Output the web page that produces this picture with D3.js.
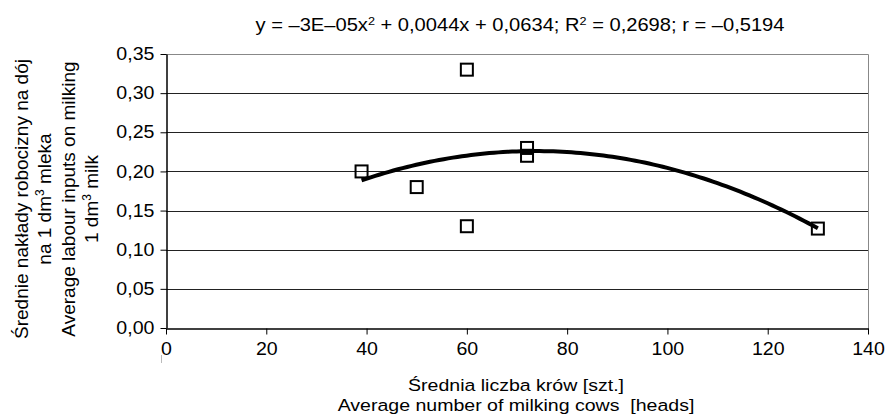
<!DOCTYPE html>
<html>
<head>
<meta charset="utf-8">
<script src="https://cdn.jsdelivr.net/npm/d3@7"></script>
<style>
  body { margin: 0; background: #fff; }
  svg { display: block; font-family: "Liberation Sans", Arial, sans-serif; }
  text { white-space: pre; }
</style>
</head>
<body>
<svg id="chart" width="887" height="419"></svg>
<script>
const cows = [39, 50, 60, 60, 72, 72, 130];
const labour = [0.20, 0.18, 0.33, 0.13, 0.23, 0.22, 0.127];

const xTicks = [0, 20, 40, 60, 80, 100, 120, 140];
const yTicks = [0, 0.05, 0.10, 0.15, 0.20, 0.25, 0.30, 0.35];

// equation text: odd entries are superscripts
const equationText = ['y = \u20133E\u201305x', '2', ' + 0,0044x + 0,0634; R', '2', ' = 0,2698; r = \u20130,5194'];
const xTitle = ['Średnia liczba krów [szt.]', 'Average number of milking cows  [heads]'];
const yTitle = [
    ['Średnie nakłady robocizny na dój'],
    ['na 1 dm', '3', ' mleka'],
    ['Average labour inputs on milking'],
    ['1 dm', '3', ' milk']
];

const svg = d3.select('#chart');
const margin = { left: 166, right: 19, top: 54, bottom: 91 };
const W = 887, H = 419;
const SX = 1.12; // the reference text is a bit wider than Liberation Sans

const x = d3.scaleLinear().domain([0, 140]).range([margin.left, W - margin.right]);
const y = d3.scaleLinear().domain([0, 0.35]).range([H - margin.bottom, margin.top]);

const fmt = d => d3.format('.2f')(d).replace('.', ',');

// Gridlines
svg.append('g')
    .selectAll('line')
    .data(yTicks.slice(1, -1))
    .join('line')
    .attr('x1', x(0)).attr('x2', x(140))
    .attr('y1', d => Math.round(y(d)) + 0.5).attr('y2', d => Math.round(y(d)) + 0.5)
    .attr('stroke', '#222').attr('stroke-width', 1);

// Top and right border (gray)
svg.append('path')
    .attr('d', `M${x(0)},${Math.round(y(0.35)) + 0.5}H${Math.round(x(140)) + 0.5}V${Math.round(y(0)) + 6}`)
    .attr('fill', 'none').attr('stroke', '#888').attr('stroke-width', 1);

// Axes
const xAxis = svg.append('g')
    .attr('transform', `translate(0,${Math.round(y(0)) + 0.5})`)
    .call(d3.axisBottom(x).tickValues(xTicks).tickSize(6).tickSizeOuter(0));
const yAxis = svg.append('g')
    .attr('transform', `translate(${Math.round(x(0)) + 0.5},0)`)
    .call(d3.axisLeft(y).tickValues(yTicks).tickSize(6).tickSizeOuter(0).tickFormat(fmt));

[xAxis, yAxis].forEach(a => {
    a.select('.domain').attr('stroke', '#000').attr('stroke-width', 1.5);
    a.selectAll('.tick line').attr('stroke', '#000');
    a.selectAll('.tick text')
        .attr('fill', '#000')
        .style('font-size', '17.5px')
        .style('font-family', '"Liberation Sans", Arial, sans-serif');
});
xAxis.selectAll('.tick text')
    .attr('y', 0).attr('dy', null)
    .attr('transform', `translate(0,26) scale(${SX},1)`);
yAxis.selectAll('.tick text')
    .attr('x', 0)
    .attr('transform', `translate(-12,0) scale(${SX},1)`);

// small gray mark under the first x label, as in the reference
svg.append('line')
    .attr('x1', 161.5).attr('x2', 161.5).attr('y1', 355).attr('y2', 363)
    .attr('stroke', '#bbb').attr('stroke-width', 1);

// Quadratic trend line (least squares over the points)
function quadFit(xs, ys) {
    const n = xs.length;
    let s = [0, 0, 0, 0, 0], t = [0, 0, 0];
    for (let i = 0; i < n; i++) {
        for (let k = 0; k <= 4; k++) s[k] += Math.pow(xs[i], k);
        for (let k = 0; k <= 2; k++) t[k] += Math.pow(xs[i], k) * ys[i];
    }
    const M = [[s[0], s[1], s[2], t[0]], [s[1], s[2], s[3], t[1]], [s[2], s[3], s[4], t[2]]];
    for (let i = 0; i < 3; i++) {
        for (let j = i + 1; j < 3; j++) {
            const f = M[j][i] / M[i][i];
            for (let k = i; k < 4; k++) M[j][k] -= f * M[i][k];
        }
    }
    const c = [0, 0, 0];
    for (let i = 2; i >= 0; i--) {
        let v = M[i][3];
        for (let k = i + 1; k < 3; k++) v -= M[i][k] * c[k];
        c[i] = v / M[i][i];
    }
    return c; // c0 + c1 x + c2 x^2
}
const coef = quadFit(cows, labour);
const xMin = d3.min(cows), xMax = d3.max(cows);
const trend = d3.range(0, 101).map(i => {
    const xv = xMin + (xMax - xMin) * i / 100;
    return [xv, coef[0] + coef[1] * xv + coef[2] * xv * xv];
});
svg.append('path')
    .datum(trend)
    .attr('d', d3.line().x(d => x(d[0])).y(d => y(d[1])))
    .attr('fill', 'none').attr('stroke', '#000').attr('stroke-width', 4);

// Markers
const side = 12;
svg.append('g')
    .selectAll('rect')
    .data(cows.map((c, i) => [c, labour[i]]))
    .join('rect')
    .attr('x', d => x(d[0]) - side / 2)
    .attr('y', d => y(d[1]) - side / 2)
    .attr('width', side).attr('height', side)
    .attr('fill', 'none').attr('stroke', '#000').attr('stroke-width', 2);

// Equation title
const eq = svg.append('text')
    .attr('transform', `translate(520,31) scale(1.15,1)`)
    .attr('text-anchor', 'middle')
    .style('font-size', '17.5px');
equationText.forEach((s, i) => {
    const sp = eq.append('tspan').text(s);
    if (i % 2 === 1) sp.attr('baseline-shift', 'super').style('font-size', '11px');
});

// X axis title
xTitle.forEach((s, i) => {
    svg.append('text')
        .attr('transform', `translate(516,${391 + i * 20}) scale(1.15,1)`)
        .attr('text-anchor', 'middle')
        .style('font-size', '17px')
        .text(s);
});

// Y axis title (four rotated lines)
yTitle.forEach((parts, li) => {
    const t = svg.append('text')
        .attr('transform', `translate(${28 + li * 23.3},199) rotate(-90)`)
        .attr('text-anchor', 'middle')
        .style('font-size', '19px');
    parts.forEach((s, i) => {
        const sp = t.append('tspan').text(s);
        if (i % 2 === 1) sp.attr('baseline-shift', 'super').style('font-size', '12px');
    });
});
</script>
</body>
</html>
